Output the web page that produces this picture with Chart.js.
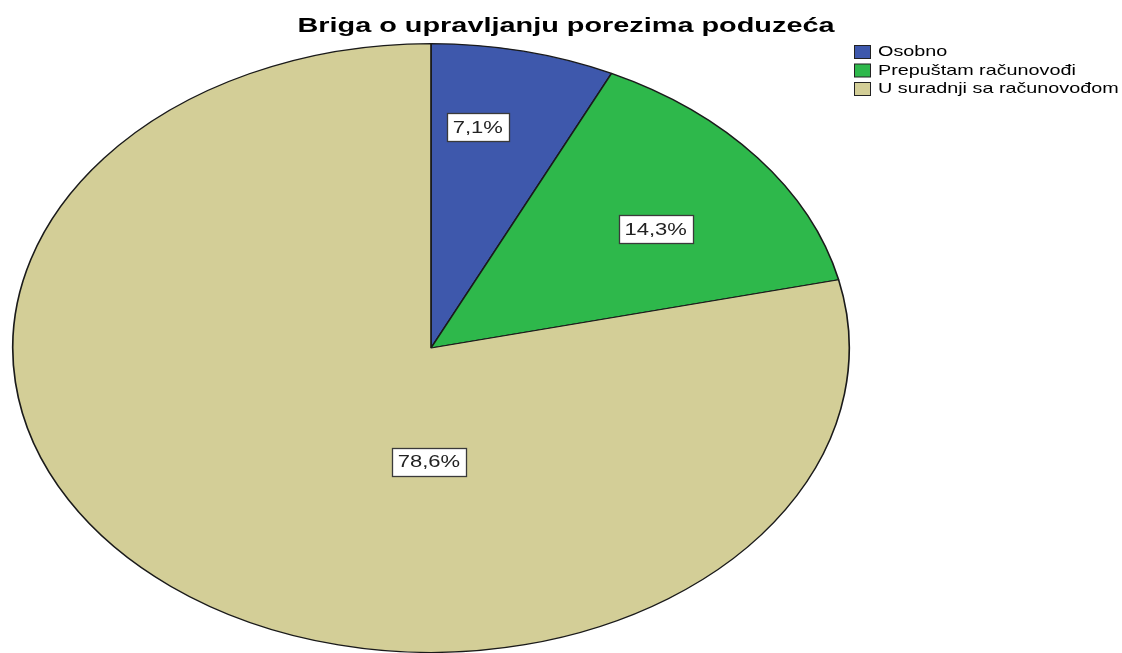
<!DOCTYPE html>
<html>
<head>
<meta charset="utf-8">
<script src="https://cdn.jsdelivr.net/npm/chart.js@4/dist/chart.umd.min.js"></script>
<style>
  html, body { margin: 0; padding: 0; background: #ffffff; }
  canvas { display: block; }
</style>
</head>
<body>
<canvas id="c" width="1122" height="653"></canvas>
<script>
// ---- data ----
const chartTitle = "Briga o upravljanju porezima poduzeća";
const categories = ["Osobno", "Prepuštam računovođi", "U suradnji sa računovođom"];
const percentages = [7.1, 14.3, 78.6];

// ---- styles ----
const sliceColors = ["#3e58ac", "#2eb84b", "#d3ce97"];
const STRETCH = 1.374;            // horizontal stretch of the whole picture (ellipse + text)
const FONT = "Arial, 'Liberation Sans', sans-serif";
// label anchor positions, in units of the pie radius (x already including stretch)
const labelOffsets = [[0.112, -0.725], [0.537, -0.39], [-0.005, 0.374]];

function fmtPct(v) { return v.toFixed(1).replace('.', ',') + '%'; }

function stretchedText(ctx, text, x, y, font, color, align, baseline) {
  ctx.save();
  ctx.translate(x, y);
  ctx.scale(STRETCH, 1);
  ctx.font = font;
  ctx.fillStyle = color;
  ctx.textAlign = align;
  ctx.textBaseline = baseline;
  ctx.fillText(text, 0, 0);
  ctx.restore();
}

const ellipsePlugin = {
  id: 'ellipse',
  beforeDatasetsDraw(chart) {
    const arc = chart.getDatasetMeta(0).data[0];
    const ctx = chart.ctx;
    ctx.save();
    ctx.translate(arc.x, arc.y);
    ctx.scale(STRETCH, 1);
    ctx.translate(-arc.x, -arc.y);
  },
  afterDatasetsDraw(chart) {
    chart.ctx.restore();
  }
};

const decorPlugin = {
  id: 'decor',
  afterDraw(chart) {
    const ctx = chart.ctx;
    const meta = chart.getDatasetMeta(0);
    // value labels
    meta.data.forEach((arc, i) => {
      const r = arc.outerRadius;
      const x = arc.x + labelOffsets[i][0] * r * STRETCH;
      const y = arc.y + labelOffsets[i][1] * r;
      const text = fmtPct(percentages[i]);
      ctx.save();
      ctx.font = "16px " + FONT;
      const tw = ctx.measureText(text).width * STRETCH;
      const bw = Math.round(tw + 12), bh = 28;
      const bx = Math.round(x - bw / 2) + 0.5, by = Math.round(y - bh / 2) + 0.5;
      ctx.fillStyle = "#ffffff";
      ctx.fillRect(bx, by, bw, bh);
      ctx.strokeStyle = "#3a3a3a";
      ctx.lineWidth = 1.3;
      ctx.strokeRect(bx, by, bw, bh);
      ctx.restore();
      stretchedText(ctx, text, x, y + 1, "16px " + FONT, "#222222", "center", "middle");
    });
    // title
    stretchedText(ctx, chartTitle, 566, 32, "bold 21px " + FONT, "#000000", "center", "alphabetic");
    // legend
    categories.forEach((cat, i) => {
      const bx = 854.5, by = 45.5 + i * 18.5;
      ctx.save();
      ctx.fillStyle = sliceColors[i];
      ctx.fillRect(bx, by, 16, 13);
      ctx.strokeStyle = "#222222";
      ctx.lineWidth = 1;
      ctx.strokeRect(bx, by, 16, 13);
      ctx.restore();
      stretchedText(ctx, cat, 878, by + 7, "14.4px " + FONT, "#000000", "left", "middle");
    });
  }
};

new Chart(document.getElementById('c'), {
  type: 'pie',
  data: {
    labels: categories,
    datasets: [{
      data: percentages,
      backgroundColor: sliceColors,
      borderColor: "#1a1a1a",
      borderWidth: 1.2
    }]
  },
  options: {
    responsive: false,
    animation: false,
    devicePixelRatio: 1,
    layout: { padding: { left: 0, right: 260, top: 43, bottom: 0 } },
    plugins: {
      legend: { display: false },
      title: { display: false },
      tooltip: { enabled: false }
    }
  },
  plugins: [ellipsePlugin, decorPlugin]
});
</script>
</body>
</html>
